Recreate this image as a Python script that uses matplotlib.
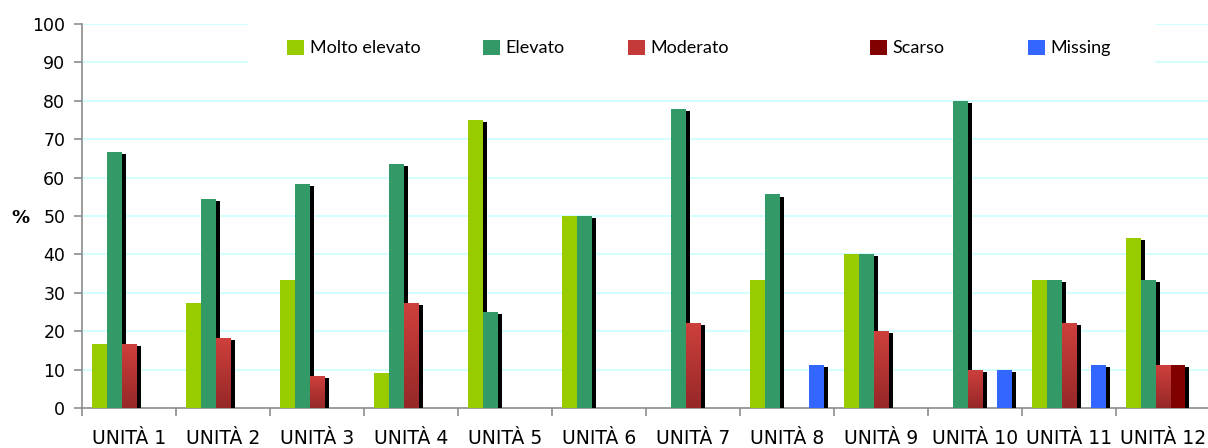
import numpy as np
import matplotlib
matplotlib.use("Agg")
import matplotlib.pyplot as plt
import matplotlib.patheffects as pe
from matplotlib.patches import Rectangle, Patch

units = ["UNITÀ 1", "UNITÀ 2", "UNITÀ 3", "UNITÀ 4", "UNITÀ 5", "UNITÀ 6",
         "UNITÀ 7", "UNITÀ 8", "UNITÀ 9", "UNITÀ 10", "UNITÀ 11", "UNITÀ 12"]
molto_elevato = [16.7, 27.3, 33.3, 9.1, 75.0, 50.0, 0, 33.3, 40.0, 0, 33.3, 44.4]
elevato = [66.7, 54.5, 58.3, 63.6, 25.0, 50.0, 77.8, 55.6, 40.0, 80.0, 33.3, 33.3]
moderato = [16.7, 18.2, 8.3, 27.3, 0, 0, 22.2, 0, 20.0, 10.0, 22.2, 11.1]
scarso = [0, 0, 0, 0, 0, 0, 0, 0, 0, 0, 0, 11.1]
missing = [0, 0, 0, 0, 0, 0, 0, 11.1, 0, 10.0, 11.1, 0]

series = [("Molto elevato", molto_elevato, "#99cc00"),
          ("Elevato", elevato, "#339966"),
          ("Moderato", moderato, "#c43a38"),
          ("Scarso", scarso, "#800000"),
          ("Missing", missing, "#3366ff")]

fig = plt.figure(figsize=(12.08, 4.48), dpi=100)
ax = fig.add_axes([82 / 1208, 40 / 448, 1128 / 1208, 384 / 448])

x = np.arange(len(units))
w = 0.158
shadow = [pe.SimplePatchShadow(offset=(3, -1.5), shadow_rgbFace="black", alpha=1.0), pe.Normal()]

# red gradient for the Moderato bars
grad = np.linspace(0, 1, 100).reshape(-1, 1)
top_c = np.array([206, 64, 60]) / 255
bot_c = np.array([150, 40, 40]) / 255
grad_img = top_c * (1 - grad[..., None]) + bot_c * grad[..., None]

for j, (name, vals, col) in enumerate(series):
    pos = x + (j - 2) * w
    bars = ax.bar(pos, vals, width=w, color=col, zorder=3, linewidth=0)
    for b, v in zip(bars, vals):
        if v > 0:
            b.set_path_effects(shadow)
            if name == "Moderato":
                im = ax.imshow(grad_img, extent=(b.get_x(), b.get_x() + w, 0, v),
                               aspect="auto", origin="upper", zorder=3.5)
                im.set_clip_path(b)
        else:
            b.set_visible(False)

ax.set_xlim(-0.5, len(units) - 0.5)
ax.set_ylim(0, 100)
ax.set_yticks(np.arange(0, 101, 10))
ax.set_xticks(x)
ax.set_xticklabels(units)
ax.set_xticks(np.arange(-0.5, len(units), 1), minor=True)

ax.yaxis.grid(True, color="#ccffff", linewidth=1.2, zorder=0)
ax.set_axisbelow(True)

for s in ["top", "right"]:
    ax.spines[s].set_visible(False)
for s in ["left", "bottom"]:
    ax.spines[s].set_color("#8c8c8c")
    ax.spines[s].set_linewidth(1.2)

ax.tick_params(axis="x", which="major", length=0, pad=15, labelsize=13.5, colors="#000000")
ax.tick_params(axis="x", which="minor", length=6, width=1.2, color="#8c8c8c")
ax.tick_params(axis="y", length=6, width=1.2, color="#8c8c8c", pad=6, labelsize=12.5)

fig.text(20 / 1208, 1 - 218 / 448, "%", fontsize=13, fontweight="bold", ha="center", va="center")

# legend: white panel plus one entry per series
panel = Rectangle(((248 - 82) / 1128, (408 - 98) / 384), (1155 - 248) / 1128, 80 / 384,
                  transform=ax.transAxes, facecolor="white", edgecolor="none", zorder=2)
ax.add_patch(panel)

marker_x = [287, 483, 628, 870, 1028]
for (name, vals, col), mx in zip(series, marker_x):
    fig.legend(handles=[Patch(facecolor=col, edgecolor="none")], labels=[name],
               loc="center left", bbox_to_anchor=(mx / 1208, 1 - 48 / 448),
               frameon=False, handlelength=0.95, handleheight=0.95, handletextpad=0.3,
               borderpad=0, borderaxespad=0,
               prop={"family": "Lato", "size": 13})

fig.savefig("out.png", dpi=100)
